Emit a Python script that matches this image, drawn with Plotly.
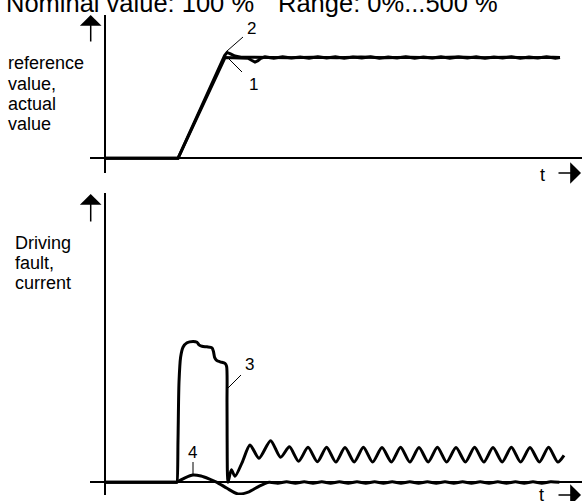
import plotly.graph_objects as go

W, H = 582, 501

# ---------------- data ----------------
title_parts = ["Nominal value: 100 %", "Range: 0%...500 %"]
top_ylabel = ["reference", "value,", "actual", "value"]
bottom_ylabel = ["Driving", "fault,", "current"]
time_label = "t"
curve_labels = ["1", "2", "3", "4"]

# top panel: time [ms] / value [% of nominal]
t_ref = [0, 18.25, 30, 33.75, 35.75, 36.75, 37.5, 38.25, 39, 40,
         42.2, 44.4, 46.6, 48.8, 51.0, 53.2, 55.4, 57.6, 59.8, 62.0,
         64.2, 66.4, 68.6, 70.8, 73.0, 75.2, 77.4, 79.6, 81.8, 84.0,
         86.2, 88.4, 90.6, 92.8, 95.0, 97.2, 99.4, 101.6, 103.8, 106.0,
         108.2, 110.4, 112.6, 113.75]
v_ref = [0, 0, 100, 99.8, 99.2, 97, 95.5, 96.8, 99.3, 100.6,
         99.3, 100.7, 99.4, 100.6, 99.3, 100.7, 99.4, 100.7, 99.3, 100.6,
         99.4, 100.7, 99.3, 100.6, 99.4, 100.7, 99.3, 100.6, 99.4, 100.7,
         99.3, 100.6, 99.4, 100.7, 99.3, 100.6, 99.4, 100.7, 99.3, 100.6,
         99.4, 100.7, 99.3, 100.0]

t_act = [0, 18.25, 29.9, 30.5, 31.25, 32.5, 34, 36, 40, 46, 52, 58, 64, 70,
         76, 82, 88, 94, 100, 106, 112, 113.75]
v_act = [0, 0, 102, 105, 103.8, 101.5, 100.3, 100.2, 100.4, 99.8, 100.3, 99.8,
         100.4, 99.8, 100.3, 99.8, 100.4, 99.8, 100.3, 99.8, 100.3, 100]

# bottom panel: time [ms] / current, driving fault [%]
t_cur = [0, 17.5, 17.9, 18, 18.25, 18.5, 18.9, 19.5, 20.5, 22, 23, 23.5, 24.25, 25.5, 26.75,
         27.1, 27.4, 27.9, 28.75, 30, 30.4, 30.5, 30.6, 30.75,
         31.6, 32.5, 34.3, 36.25, 38.5, 41.4, 43.9,
         46.1, 48.4, 50.75, 53.1, 55.4, 57.7, 60, 62.3, 64.6, 66.9, 69.25, 71.6,
         73.9, 76.2, 78.5, 80.8, 83.1, 85.4, 87.75, 90.1, 92.4, 94.7, 97, 99.3,
         101.6, 103.9, 106.25, 108.6, 110.9, 113.2, 114.75]
v_cur = [0, 0, 0, 0, 42, 100, 125, 135, 139.5, 140.8, 140, 137.5, 136, 135.5, 134.5,
         131, 125, 122, 120.5, 119, 116, 80, 10, 0,
         12.5, 6, 20, 37.3, 24, 41.6, 25,
         35.5, 21, 35, 20.5, 35, 20.2, 34.8, 20.3, 35, 20.2, 34.8, 20.3,
         35, 20.2, 34.8, 20.3, 35, 20.2, 34.8, 20.3, 35, 20.2, 34.8, 20.3,
         35, 20.2, 34.8, 20.3, 35, 20.2, 27]

t_flt = [0, 16, 17.5, 18, 20, 22, 24, 26, 28, 30.5, 33.25, 36, 38.5, 41,
         43.2, 45.4, 47.6, 49.8, 52.0, 54.2, 56.4, 58.6, 60.8, 63.0, 65.2, 67.4,
         69.6, 71.8, 74.0, 76.2, 78.4, 80.6, 82.8, 85.0, 87.2, 89.4, 91.6, 93.8,
         96.0, 98.2, 100.4, 102.6, 104.8, 107.0, 109.2, 111.4, 113.6, 115.8, 116.5]
v_flt = [0, 0, 0, 0.3, 4.5, 7.3, 6.3, 3.5, 0, -6, -11.7, -9.5, -4, 0,
         -0.9, 0.5, -0.9, 0.5, -0.9, 0.5, -0.9, 0.5, -0.9, 0.5, -0.9, 0.5,
         -0.9, 0.5, -0.9, 0.5, -0.9, 0.5, -0.9, 0.5, -0.9, 0.5, -0.9, 0.5,
         -0.9, 0.5, -0.9, 0.5, -0.9, 0.5, -0.9, 0.5, 0]

# ---------------- layout helpers (pixels -> paper) ----------------
FONT = "Liberation Sans, Arial, sans-serif"
X0, XS = 105, 4.0          # px of t=0, px per ms
YT0, YTS = 158.3, 1.008    # top panel: px of 0 %, px per %
YB0, YBS = 482.3, 1.0      # bottom panel


def px(x):
    return x / W


def py(y):
    return 1 - y / H


fig = go.Figure()
line = dict(color="black", width=3)
fig.add_trace(go.Scatter(x=t_ref, y=v_ref, mode="lines", line=line,
                         xaxis="x", yaxis="y", hoverinfo="skip"))
fig.add_trace(go.Scatter(x=t_act, y=v_act, mode="lines", line=line,
                         xaxis="x", yaxis="y", hoverinfo="skip"))
fig.add_trace(go.Scatter(x=t_cur, y=v_cur, mode="lines",
                         line=dict(color="black", width=3, shape="spline", smoothing=0.7),
                         xaxis="x2", yaxis="y2", hoverinfo="skip"))
fig.add_trace(go.Scatter(x=t_flt, y=v_flt, mode="lines",
                         line=dict(color="black", width=3, shape="spline", smoothing=0.7),
                         xaxis="x2", yaxis="y2", hoverinfo="skip"))

xr = [(90 - X0) / XS, (W - X0) / XS]
ax_common = dict(showgrid=False, showticklabels=False, ticks="", showline=False,
                 zeroline=True, zerolinecolor="black", zerolinewidth=1.5, fixedrange=True)
fig.update_layout(
    width=W, height=H, margin=dict(l=0, r=0, t=0, b=0),
    paper_bgcolor="white", plot_bgcolor="rgba(0,0,0,0)", showlegend=False,
    xaxis=dict(domain=[px(90), 1], range=xr, anchor="y", **ax_common),
    yaxis=dict(domain=[py(173), py(15)],
               range=[(YT0 - 173) / YTS, (YT0 - 15) / YTS], anchor="x", **ax_common),
    xaxis2=dict(domain=[px(90), 1], range=xr, anchor="y2", **ax_common),
    yaxis2=dict(domain=[py(495), py(193)],
                range=[(YB0 - 495) / YBS, (YB0 - 193) / YBS], anchor="x2", **ax_common),
)

ann = []


def text(t, x, y, size, xanchor="center"):
    ann.append(dict(text=t, x=px(x), y=py(y), xref="paper", yref="paper",
                    xanchor=xanchor, yanchor="middle", showarrow=False,
                    font=dict(family=FONT, size=size, color="black")))


def arrow(xt, yt, ax, ay, size=2.4):
    ann.append(dict(text="", x=px(xt), y=py(yt), xref="paper", yref="paper",
                    ax=ax, ay=ay, showarrow=True, arrowhead=1, arrowsize=size,
                    arrowwidth=1.5, arrowcolor="black", standoff=0))


text(title_parts[0], 4, 3, 25.5, "left")
text(title_parts[1], 276, 3, 25.5, "left")
for i, s in enumerate(top_ylabel):
    text(s, 6, 63.3 + 20.3 * i, 18, "left")
for i, s in enumerate(bottom_ylabel):
    text(s, 13, 242.7 + 20.3 * i, 18, "left")
text(time_label, 542, 174.5, 18)
text(time_label, 541, 494.6, 18)
text(curve_labels[0], 253, 84, 17)
text(curve_labels[1], 251, 28, 17)
text(curve_labels[2], 249, 364, 17)
text(curve_labels[3], 192, 452, 17)

arrow(90.7, 15, 0, 28)
arrow(90.7, 194, 0, 29)
arrow(582, 173, -25, 0)
arrow(582, 495, -25, 0)
fig.update_layout(annotations=ann)

leaders = [((228, 58), (242, 72)), ((227, 51), (243, 37)),
           ((228, 388), (241, 375)), ((193, 462), (193, 474))]
fig.update_layout(shapes=[dict(type="line", xref="paper", yref="paper",
                               x0=px(a[0]), y0=py(a[1]), x1=px(b[0]), y1=py(b[1]),
                               line=dict(color="black", width=1)) for a, b in leaders])

fig.write_html("out.html", config={"displayModeBar": False},
               post_script="document.body.style.margin='0';")
